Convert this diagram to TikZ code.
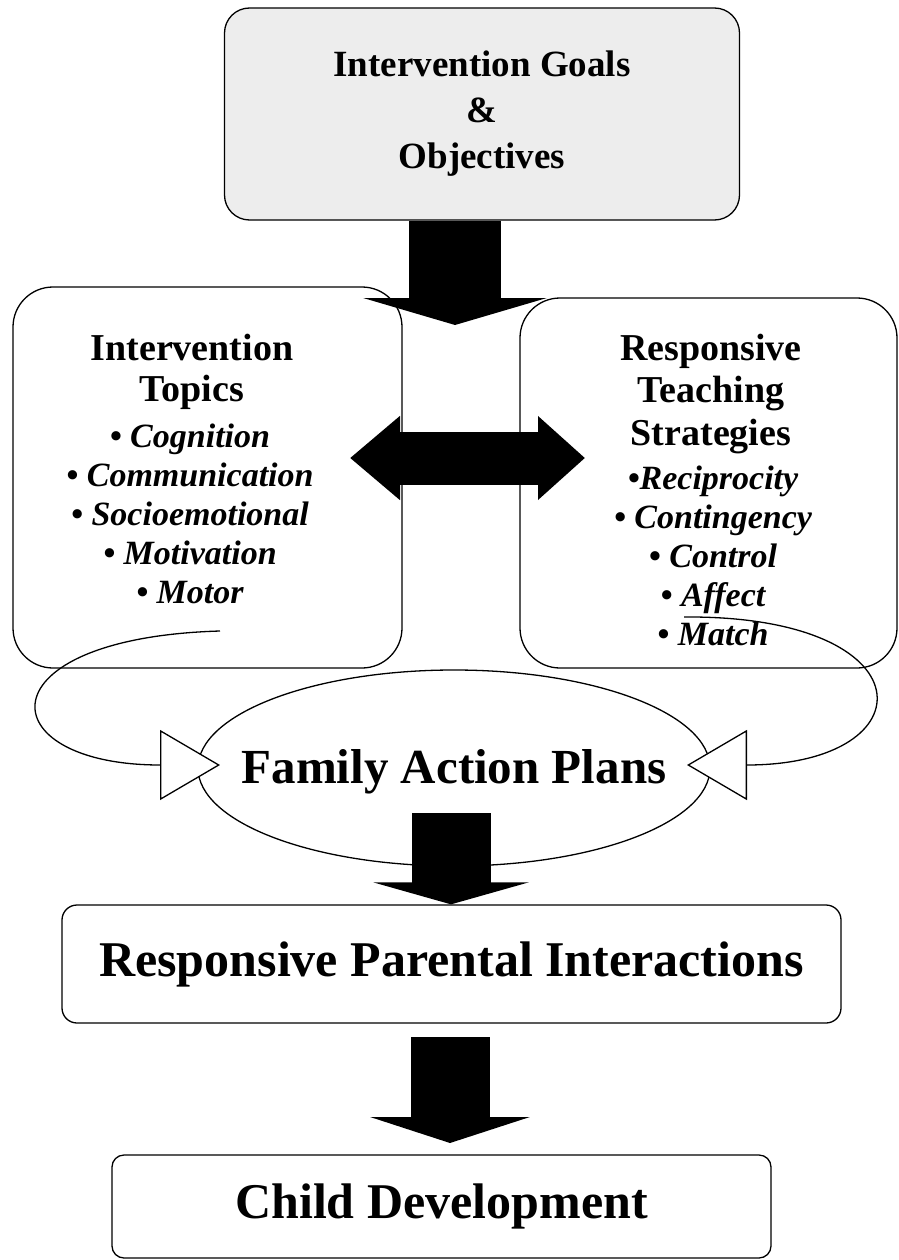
\documentclass[tikz,border=0pt]{standalone}
\usepackage{fontspec}
\setmainfont{Liberation Serif}
\usetikzlibrary{arrows.meta,shapes.geometric}

\tikzset{
  panel/.style={draw, line width=1.3pt, inner sep=0pt},
  headtext/.style={align=center, font=\bfseries\fontsize{38}{41}\selectfont},
  itemtext/.style={align=center, font=\bfseries\itshape\fontsize{34}{39}\selectfont},
  bigtext/.style={font=\bfseries\fontsize{50}{56}\selectfont},
  loopline/.style={line width=1.3pt, -{Triangle[open, fill=white, length=60pt, width=70pt]}},
}

\begin{document}
\begin{tikzpicture}[x=1pt, y=-1pt]
  \useasboundingbox (0,0) rectangle (898,1260);

  \begin{scope}
    \node[panel, fill=black!7, rounded corners=25pt, minimum width=515pt, minimum height=212pt,
          align=center, font=\bfseries\fontsize{37}{46}\selectfont] (goals) at (482,114)
          {Intervention Goals\\\&\\Objectives};
    \node[panel, rounded corners=40pt, minimum width=389pt, minimum height=381pt] (topicbox) at (207.5,477.5) {};
    \node[panel, rounded corners=40pt, minimum width=377pt, minimum height=370pt] (teachbox) at (708.5,483) {};
    \node[panel, ellipse, minimum width=512pt, minimum height=196pt] (plans) at (454,768) {};
    \node[panel, rounded corners=15pt, minimum width=779pt, minimum height=118pt, bigtext] (parent) at (451.5,964) {Responsive Parental Interactions};
    \node[panel, rounded corners=12pt, minimum width=659pt, minimum height=103pt, bigtext] (child) at (441.5,1206.5) {Child Development};
  \end{scope}

  \node[font=\bfseries\fontsize{49}{56}\selectfont] (planstext) at (454,772) {Family Action Plans};
  \node[headtext] (topics) at (192,372) {Intervention\\Topics};
  \node[itemtext] (topiclist) at (190,514) {• Cognition\\• Communication\\• Socioemotional\\• Motivation\\• Motor};
  \node[headtext, font=\bfseries\fontsize{38}{42.5}\selectfont] (teach) at (711,394) {Responsive\\Teaching\\Strategies};
  \node[itemtext] (teachlist) at (713,556) {•Reciprocity\\• Contingency\\• Control\\• Affect\\• Match};

  \coordinate (lstart) at (220,631);
  \coordinate (ltip)   at (220,765);
  \coordinate (rstart) at (684,617);
  \coordinate (rtip)   at (687,765);
  \draw[loopline] (lstart) .. controls (-20,638) and (-12,765) .. (ltip);
  \draw[loopline] (rstart) .. controls (930,615) and (930,765) .. (rtip);

  \coordinate (gtip) at (455,325);
  \coordinate (mid)  at (451,813);
  \coordinate (dl)   at (350,458);
  \coordinate (dr)   at (585,458);
  \coordinate (cbot) at (450,1037);
  \coordinate (ctip) at (450,1143);

  \draw[line width=92pt, -{Triangle[width=183pt, length=27pt]}] (goals.south -| gtip) -- (gtip);
  \draw[line width=53pt, {Triangle[width=81pt, length=50pt]}-{Triangle[width=81pt, length=47pt]}] (dl) -- (dr);
  \draw[line width=79pt, -{Triangle[width=155pt, length=22pt]}] (mid) -- (parent.north -| mid);
  \draw[line width=79pt, -{Triangle[width=159pt, length=26pt]}] (cbot) -- (ctip);
\end{tikzpicture}
\end{document}
